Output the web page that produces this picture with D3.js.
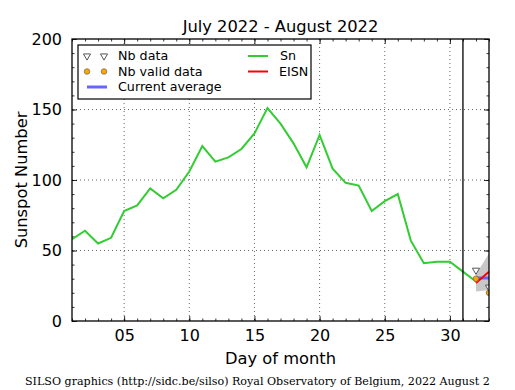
<!DOCTYPE html>
<html>
<head>
<meta charset="utf-8">
<script src="https://cdn.jsdelivr.net/npm/d3@7"></script>
<style>
body { margin: 0; background: #fff; }
svg { display: block; }
</style>
</head>
<body>
<svg width="515" height="390"></svg>
<script>
// daily sunspot numbers, day 1 = July 1, day 32 = August 1
var snDays = d3.range(1, 33);
var snValues = [58, 64, 55, 59, 78, 82, 94, 87, 93, 106, 124, 113, 116, 122, 133, 151,
  140, 126, 109, 132, 108, 98, 96, 78, 85, 90, 57, 41, 42, 42, 35, 28];
var eisnDays = [32, 33];
var eisnValues = [27, 35];
var eisnLow = [21, 22];
var eisnHigh = [33, 48];
var nbDays = [32, 33];
var nbData = [36, 24];
var nbValid = [30, 20];
var currentAverage = 30.5;
var xTicks = [5, 10, 15, 20, 25, 30];
var xTickLabels = ["05", "10", "15", "20", "25", "30"];
var yTicks = [0, 50, 100, 150, 200];

var margins = {top: 39, right: 26, bottom: 69, left: 72};
var width = 515 - margins.left - margins.right;
var height = 390 - margins.top - margins.bottom;

var svg = d3.select("svg");
var font = "DejaVu Sans, sans-serif";

var x = d3.scaleLinear().domain([1, 33]).range([0, width]);
var y = d3.scaleLinear().domain([0, 200]).range([height, 0]);

var g = svg.append("g")
  .attr("transform", "translate(" + margins.left + "," + margins.top + ")");

svg.append("defs").append("clipPath").attr("id", "clip")
  .append("rect").attr("width", width).attr("height", height);

// grid
g.selectAll(".gx").data(xTicks).enter().append("line")
  .attr("x1", function(d){ return x(d); }).attr("x2", function(d){ return x(d); })
  .attr("y1", 0).attr("y2", height)
  .attr("stroke", "#000").attr("stroke-width", 0.6).attr("stroke-dasharray", "1,3");
g.selectAll(".gy").data([50, 100, 150]).enter().append("line")
  .attr("y1", function(d){ return y(d); }).attr("y2", function(d){ return y(d); })
  .attr("x1", 0).attr("x2", width)
  .attr("stroke", "#000").attr("stroke-width", 0.6).attr("stroke-dasharray", "1,3");

// axes, ticks inward
var yAxis = d3.axisLeft(y).tickValues(yTicks).tickSizeInner(-5).tickSizeOuter(0).tickPadding(10);
var yMinor = d3.axisLeft(y).tickValues(d3.range(0, 201, 10)).tickSizeInner(-2.5).tickSizeOuter(0).tickFormat("");
var yRight = d3.axisRight(y).tickValues(yTicks).tickSizeInner(-5).tickSizeOuter(0).tickFormat("");
var yRightMinor = d3.axisRight(y).tickValues(d3.range(0, 201, 10)).tickSizeInner(-2.5).tickSizeOuter(0).tickFormat("");
var xAxis = d3.axisBottom(x).tickValues(xTicks).tickFormat(function(d, i){ return xTickLabels[i]; })
  .tickSizeInner(-5).tickSizeOuter(0).tickPadding(9);
var xMinor = d3.axisBottom(x).tickValues(d3.range(1, 34)).tickSizeInner(-2.5).tickSizeOuter(0).tickFormat("");
var xTop = d3.axisTop(x).tickValues(xTicks).tickSizeInner(-5).tickSizeOuter(0).tickFormat("");
var xTopMinor = d3.axisTop(x).tickValues(d3.range(1, 34)).tickSizeInner(-2.5).tickSizeOuter(0).tickFormat("");

g.append("g").call(yAxis);
g.append("g").call(yMinor);
g.append("g").attr("transform", "translate(" + width + ",0)").call(yRight);
g.append("g").attr("transform", "translate(" + width + ",0)").call(yRightMinor);
g.append("g").attr("transform", "translate(0," + height + ")").call(xAxis);
g.append("g").attr("transform", "translate(0," + height + ")").call(xMinor);
g.append("g").call(xTop);
g.append("g").call(xTopMinor);
g.selectAll(".domain").remove();
g.selectAll(".tick line").attr("stroke", "#000").attr("stroke-width", 0.8);
g.selectAll(".tick text").attr("font-family", font).attr("font-size", 16).attr("fill", "#000");

var plot = g.append("g").attr("clip-path", "url(#clip)");

// confidence band
var band = d3.area()
  .x(function(d){ return x(d); })
  .y0(function(d, i){ return y(eisnLow[i]); })
  .y1(function(d, i){ return y(eisnHigh[i]); });
plot.append("path").datum(eisnDays).attr("d", band).attr("fill", "#c8c8c8");

// Sn line
var snLine = d3.line()
  .x(function(d, i){ return x(snDays[i]); })
  .y(function(d){ return y(d); });
plot.append("path").datum(snValues).attr("d", snLine)
  .attr("fill", "none").attr("stroke", "#33cc33").attr("stroke-width", 2);

// current average
plot.append("line")
  .attr("x1", x(eisnDays[0])).attr("x2", x(eisnDays[1]))
  .attr("y1", y(currentAverage)).attr("y2", y(currentAverage))
  .attr("stroke", "#6666ff").attr("stroke-width", 3);

// EISN line
var eisnLine = d3.line()
  .x(function(d, i){ return x(eisnDays[i]); })
  .y(function(d){ return y(d); });
plot.append("path").datum(eisnValues).attr("d", eisnLine)
  .attr("fill", "none").attr("stroke", "#ff0000").attr("stroke-width", 2);

// markers
var tri = d3.symbol().type(d3.symbolTriangle).size(22);
plot.selectAll(".nb").data(nbData).enter().append("path")
  .attr("d", tri)
  .attr("transform", function(d, i){ return "translate(" + x(nbDays[i]) + "," + y(d) + ") rotate(180)"; })
  .attr("fill", "#fff").attr("stroke", "#555").attr("stroke-width", 1);
plot.selectAll(".nbv").data(nbValid).enter().append("circle")
  .attr("cx", function(d, i){ return x(nbDays[i]); })
  .attr("cy", function(d){ return y(d); })
  .attr("r", 2.8)
  .attr("fill", "#ffa500").attr("stroke", "#555").attr("stroke-width", 0.6);

// month separator
g.append("line")
  .attr("x1", x(31)).attr("x2", x(31)).attr("y1", 0).attr("y2", height)
  .attr("stroke", "#000").attr("stroke-width", 1.3);

// frame
g.append("rect").attr("width", width).attr("height", height)
  .attr("fill", "none").attr("stroke", "#000").attr("stroke-width", 1.3);

// legend
var lg = g.append("g").attr("transform", "translate(6,6)");
lg.append("rect").attr("width", 233).attr("height", 54)
  .attr("fill", "#fff").attr("stroke", "#000").attr("stroke-width", 1.2);
var rows = [11, 26.5, 42];
[9, 26].forEach(function(px){
  lg.append("path").attr("d", tri)
    .attr("transform", "translate(" + px + "," + rows[0] + ") rotate(180)")
    .attr("fill", "#fff").attr("stroke", "#555").attr("stroke-width", 1);
  lg.append("circle").attr("cx", px).attr("cy", rows[1]).attr("r", 2.8)
    .attr("fill", "#ffa500").attr("stroke", "#555").attr("stroke-width", 0.6);
});
lg.append("line").attr("x1", 9).attr("x2", 29).attr("y1", rows[2]).attr("y2", rows[2])
  .attr("stroke", "#6666ff").attr("stroke-width", 3);
lg.append("line").attr("x1", 170).attr("x2", 190).attr("y1", rows[0]).attr("y2", rows[0])
  .attr("stroke", "#33cc33").attr("stroke-width", 2);
lg.append("line").attr("x1", 170).attr("x2", 190).attr("y1", rows[1]).attr("y2", rows[1])
  .attr("stroke", "#ff0000").attr("stroke-width", 2);
var legendText = [["Nb data", 40, rows[0]], ["Nb valid data", 40, rows[1]], ["Current average", 40, rows[2]],
  ["Sn", 202, rows[0]], ["EISN", 201, rows[1]]];
legendText.forEach(function(t){
  lg.append("text").text(t[0]).attr("x", t[1]).attr("y", t[2]).attr("dy", "0.35em")
    .attr("font-family", font).attr("font-size", 12.7);
});

// titles
svg.append("text").text("July 2022 - August 2022")
  .attr("x", margins.left + width / 2).attr("y", 32).attr("text-anchor", "middle")
  .attr("font-family", font).attr("font-size", 16.3);
svg.append("text").text("Day of month")
  .attr("x", margins.left + width / 2).attr("y", 364).attr("text-anchor", "middle")
  .attr("font-family", font).attr("font-size", 16.3);
svg.append("text").text("Sunspot Number")
  .attr("transform", "translate(27," + (margins.top + height / 2) + ") rotate(-90)")
  .attr("text-anchor", "middle").attr("font-family", font).attr("font-size", 16.3);
svg.append("text").text("SILSO graphics (http://sidc.be/silso) Royal Observatory of Belgium, 2022 August 2")
  .attr("x", 25).attr("y", 385).attr("font-family", "DejaVu Serif, serif").attr("font-size", 11.1);
</script>
</body>
</html>
